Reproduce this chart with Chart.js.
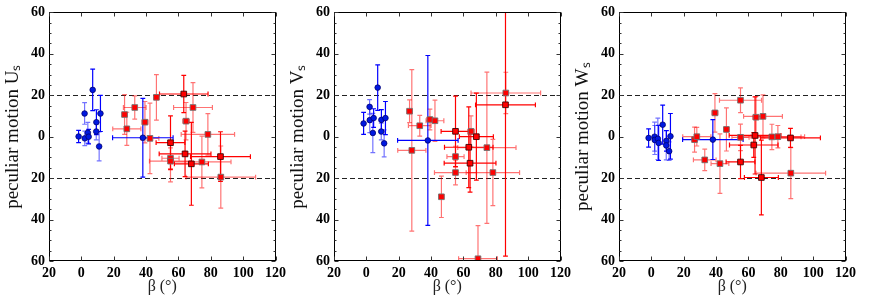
<!DOCTYPE html>
<html>
<head>
<meta charset="utf-8">
<script src="https://cdn.jsdelivr.net/npm/chart.js@4/dist/chart.umd.min.js"></script>
<style>
body { margin: 0; background: #fff; }
canvas { position: absolute; top: 0; }
</style>
</head>
<body>
<canvas id="pU" width="290" height="300" style="left:0px"></canvas>
<canvas id="pV" width="290" height="300" style="left:285px"></canvas>
<canvas id="pW" width="290" height="300" style="left:570px"></canvas>
<script>
// blue sample (beta and its error)
let betaBlue    = [-1.7, 2.0, 2.1, 4.0, 4.5, 7.0, 9.3, 9.2, 11.0, 11.8, 38.0];
let betaBlueErr = [0, 0, 0, 0, 0, 0, 0, 0, 0, 0, 18.7];
let blueFlag    = [1, 0, 0, 0, 1, 1, 1, 0, 0, 1, 1];
let blueU    = [0.1, 11.2, -0.8, 1.9, 0.0, 22.6, 7.0, 2.5, -4.7, 11.2, -0.5];
let blueUErr = [3, 5.2, 3.5, 5, 3.5, 10, 6, 4, 7, 8.7, 19];
let blueV    = [6.4, 14.4, 8.0, 1.8, 9.0, 23.7, 8.1, 2.5, -3.2, 9.0, -1.8];
let blueVErr = [5.3, 3.5, 6, 9.5, 4.5, 11, 5, 4, 6.5, 8, 41];
let blueW    = [-0.6, 0.0, -1.6, -1.0, -3.0, 5.8, -2.0, -4.2, -7.0, 0.2, -1.4];
let blueWErr = [4.4, 7, 7, 10, 8.5, 9.4, 5, 7, 4.5, 11, 9.6];

// red sample
let betaRed    = [26.7, 28.1, 33.0, 39.3, 42.4, 46.4, 55.1, 55.1, 55.1, 63.3, 64.1, 64.7, 69.0, 68.0, 74.5, 78.2, 86.0, 86.2];
let betaRedErr = [1.5, 8.7, 7.0, 1.8, 5.5, 1.5, 8.9, 5.3, 13.0, 15.0, 16.0, 2.0, 12.0, 10.5, 18.0, 16.5, 18.5, 21.5];
let redFlag    = [0, 0, 0, 0, 0, 0, 1, 0, 0, 1, 1, 0, 0, 1, 0, 0, 1, 0];
let redU    = [10.7, 3.8, 14.1, 7.0, -0.8, 19.0, -2.9, -10.4, -11.8, 20.6, -8.3, 7.5, 14.1, -13.1, -12.2, 1.1, -9.6, -19.5];
let redUErr = [9.6, 8, 5.6, 10, 17, 11, 13, 5, 10, 9, 11, 9, 12, 20, 12.5, 10, 12, 15];
let redV    = [12.3, -6.6, 5.3, 8.3, 7.7, -29.0, 2.6, -9.6, -17.3, -5.1, -12.8, 2.6, -58.9, 0.0, -5.3, -17.3, 15.4, 21.1];
let redVErr = [5.5, 39, 5, 5, 10, 10, 17, 5, 6, 19.5, 14, 7.5, 16, 21, 36.5, 16, 73, 10];
let redW    = [-1.4, 0.0, -11.2, 11.5, -13.0, 3.5, -12.2, -0.3, 17.6, -4.0, 0.6, 9.4, 9.8, -19.7, -0.1, 0.0, -0.6, -17.6];
let redWErr = [6, 4.5, 5.2, 9.3, 14.4, 10.4, 8, 6.4, 6, 6, 18.6, 10, 10.4, 18, 6.1, 5.4, 4.6, 12.3];

let refLines = [-20, 20];

// error bars + dashed lines, drawn under the markers
let errPlugin = {
  id: 'errbars',
  beforeDatasetsDraw(chart) {
    let ctx = chart.ctx, a = chart.chartArea;
    let xs = chart.scales.x, ys = chart.scales.y;
    ctx.save();
    ctx.beginPath();
    ctx.rect(a.left, a.top, a.right - a.left, a.bottom - a.top);
    ctx.clip();

    ctx.setLineDash([5, 3]);
    ctx.strokeStyle = '#222';
    ctx.lineWidth = 1.2;
    refLines.forEach(v => {
      let y = Math.round(ys.getPixelForValue(v)) + 0.5;
      ctx.beginPath(); ctx.moveTo(a.left, y); ctx.lineTo(a.right, y); ctx.stroke();
    });
    ctx.setLineDash([]);

    let cap = 2.4;
    let sets = chart.data.datasets.slice().reverse();
    sets.forEach(ds => {
      ds.data.forEach((p, i) => {
        let op = ds.flag[i] ? 1 : 0.55;
        ctx.strokeStyle = 'rgba(' + ds.bar + ',' + op + ')';
        ctx.lineWidth = 1.2;
        let x = xs.getPixelForValue(p.x), y = ys.getPixelForValue(p.y);
        let ex = ds.xErr[i], ey = ds.yErr[i];
        if (ey > 0) {
          let y1 = ys.getPixelForValue(p.y + ey), y2 = ys.getPixelForValue(p.y - ey);
          ctx.beginPath();
          ctx.moveTo(x, y1); ctx.lineTo(x, y2);
          ctx.moveTo(x - cap, y1); ctx.lineTo(x + cap, y1);
          ctx.moveTo(x - cap, y2); ctx.lineTo(x + cap, y2);
          ctx.stroke();
        }
        if (ex > 0) {
          let x1 = xs.getPixelForValue(p.x - ex), x2 = xs.getPixelForValue(p.x + ex);
          ctx.beginPath();
          ctx.moveTo(x1, y); ctx.lineTo(x2, y);
          ctx.moveTo(x1, y - cap); ctx.lineTo(x1, y + cap);
          ctx.moveTo(x2, y - cap); ctx.lineTo(x2, y + cap);
          ctx.stroke();
        }
      });
    });
    ctx.restore();
  },
  afterDraw(chart) {
    // frame and inward ticks
    let ctx = chart.ctx, a = chart.chartArea;
    let xs = chart.scales.x, ys = chart.scales.y;
    let l = Math.round(a.left) + 0.5, r = Math.round(a.right) - 0.5;
    let t = Math.round(a.top) + 0.5, b = Math.round(a.bottom) - 0.5;
    ctx.save();
    ctx.strokeStyle = '#000';
    ctx.lineWidth = 1;
    ctx.strokeRect(l, t, r - l, b - t);
    ctx.strokeStyle = '#333';
    ctx.beginPath();
    for (let v = -60; v <= 60; v += 5) {
      let y = Math.round(ys.getPixelForValue(v)) + 0.5;
      let len = v % 20 === 0 ? 4 : 2;
      ctx.moveTo(l, y); ctx.lineTo(l + len, y);
      ctx.moveTo(r, y); ctx.lineTo(r - len, y);
    }
    for (let v = -20; v <= 120; v += 20) {
      let x = Math.round(xs.getPixelForValue(v)) + 0.5;
      ctx.moveTo(x, b); ctx.lineTo(x, b - 4);
      ctx.moveTo(x, t); ctx.lineTo(x, t + 4);
    }
    ctx.stroke();
    ctx.restore();
  }
};

function makePanel(id, yTitle, blueY, blueYErr, redY, redYErr) {
  new Chart(document.getElementById(id), {
    type: 'scatter',
    data: {
      datasets: [{
        data: betaBlue.map((b, i) => ({ x: b, y: blueY[i] })),
        xErr: betaBlueErr, yErr: blueYErr, flag: blueFlag, bar: '0,0,255',
        pointStyle: 'circle',
        pointRadius: 2.8,
        backgroundColor: '#0018e0',
        borderColor: '#000070',
        borderWidth: 0.8
      }, {
        data: betaRed.map((b, i) => ({ x: b, y: redY[i] })),
        xErr: betaRedErr, yErr: redYErr, flag: redFlag, bar: '255,0,0',
        pointStyle: 'rect',
        pointRadius: 4,
        backgroundColor: '#ff0000',
        borderColor: redFlag.map(f => f ? '#400000' : '#707070'),
        borderWidth: 0.9
      }]
    },
    options: {
      responsive: false,
      animation: false,
      layout: { padding: { top: 11, right: 4, left: 0, bottom: 0 } },
      plugins: { legend: { display: false }, tooltip: { enabled: false } },
      scales: {
        x: {
          type: 'linear', min: -20, max: 120,
          afterFit: s => { s.height = 39; },
          grid: { display: false, drawTicks: false },
          border: { display: false },
          ticks: {
            stepSize: 20, maxRotation: 0, padding: 4, color: '#000',
            callback: v => Math.abs(v),
            font: { family: 'Liberation Serif', size: 14, weight: 'bold' }
          },
          title: {
            display: true, text: 'β (°)', color: '#222',
            font: { family: 'Liberation Serif', size: 16 },
            padding: { top: 0, bottom: 4 }
          }
        },
        y: {
          type: 'linear', min: -60, max: 60,
          afterFit: s => { s.width = 49; },
          grid: { display: false, drawTicks: false },
          border: { display: false },
          ticks: {
            stepSize: 20, padding: 4, color: '#000',
            callback: v => Math.abs(v),
            font: { family: 'Liberation Serif', size: 14, weight: 'bold' }
          },
          title: {
            display: true, text: yTitle, color: '#111',
            font: { family: 'Liberation Serif', size: 19 },
            padding: { top: 2, bottom: 0 }
          }
        }
      }
    },
    plugins: [errPlugin]
  });
}

makePanel('pU', 'peculiar motion Uₛ', blueU, blueUErr, redU, redUErr);
makePanel('pV', 'peculiar motion Vₛ', blueV, blueVErr, redV, redVErr);
makePanel('pW', 'peculiar motion Wₛ', blueW, blueWErr, redW, redWErr);
</script>
</body>
</html>
